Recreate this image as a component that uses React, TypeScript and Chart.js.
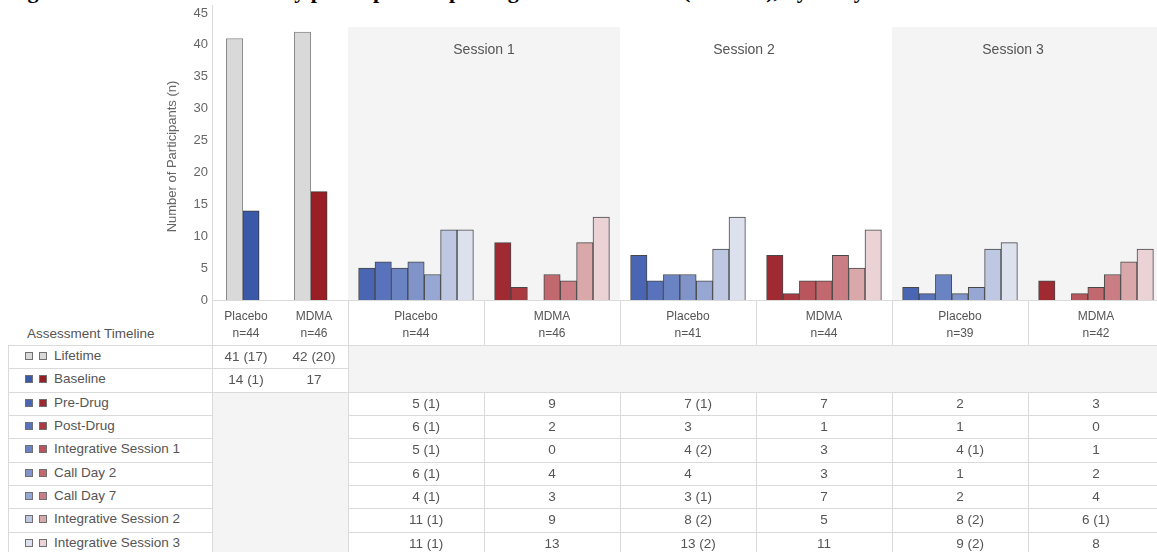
import React, { useEffect, useRef } from "react";
import { Chart, registerables } from "chart.js";

Chart.register(...registerables);

// ---------------- data ----------------
const titleText =
  "Figure 2. Lifetime and on-study participants reporting suicidal ideation (C-SSRS), by study visit";
const yAxisTitle = "Number of Participants (n)";
const yMax = 45;
const yStep = 5;

const arms = ["Placebo", "MDMA"];
const baselineN = [44, 46];
const sessionNames = ["Session 1", "Session 2", "Session 3"];
// per column: S1 Placebo, S1 MDMA, S2 Placebo, S2 MDMA, S3 Placebo, S3 MDMA
const sessionN = [44, 46, 41, 44, 39, 42];

const lifetimeCounts = [41, 42];
const lifetimeSub = [17, 20];
const baselineCounts = [14, 17];
const baselineSub = [1, null];

const timepoints = [
  "Pre-Drug",
  "Post-Drug",
  "Integrative Session 1",
  "Call Day 2",
  "Call Day 7",
  "Integrative Session 2",
  "Integrative Session 3",
];
const preDrug = [5, 9, 7, 7, 2, 3];
const preDrugSub = [1, null, 1, null, null, null];
const postDrug = [6, 2, 3, 1, 1, 0];
const postDrugSub = [1, null, null, null, null, null];
const integrative1 = [5, 0, 4, 3, 4, 1];
const integrative1Sub = [1, null, 2, null, 1, null];
const callDay2 = [6, 4, 4, 3, 1, 2];
const callDay2Sub = [1, null, null, null, null, null];
const callDay7 = [4, 3, 3, 7, 2, 4];
const callDay7Sub = [1, null, 1, null, null, null];
const integrative2 = [11, 9, 8, 5, 8, 6];
const integrative2Sub = [1, null, 2, null, 2, 1];
const integrative3 = [11, 13, 13, 11, 9, 8];
const integrative3Sub = [1, null, 2, null, 2, null];

const sessionCounts = [preDrug, postDrug, integrative1, callDay2, callDay7, integrative2, integrative3];
const sessionSubs = [
  preDrugSub,
  postDrugSub,
  integrative1Sub,
  callDay2Sub,
  callDay7Sub,
  integrative2Sub,
  integrative3Sub,
];

// ---------------- styles ----------------
const FONT = '"Liberation Sans", Arial, Helvetica, sans-serif';
const TEXT = "#555555";
const LINE = "#dadada";
const SHADE = "#f4f4f4";
const lifetimeColor = "#d9d9d9";
// index 0 = Baseline, 1..7 = session timepoints
const placeboShades = ["#3b59a9", "#4a66b3", "#5873bb", "#6a83c2", "#8094ca", "#97a7d3", "#bfc8e3", "#dde1ee"];
const mdmaShades = ["#9a1f24", "#9f2a31", "#aa3940", "#b9565d", "#c1696f", "#ca7e83", "#d9a8ab", "#ebd3d5"];

// ---------------- layout ----------------
const AXIS_X = 212;
const COL_W = 136;
const CANVAS_W = AXIS_X + COL_W * 7;
const CANVAS_H = 312;
const PLOT_TOP = 13;
const PLOT_BOTTOM = 300;
const HEADER_BOTTOM = 345;
const ROW_H = 23.33;
const BAR_W = 16.4;
const TABLE_LEFT = 8;
const BAND_OFFSET = 14;
const BODY_FONT = 13.5;
const HEAD_FONT = 12;
const sessionTitleShift = [0, -12, -15];
const baselineShift = -0.024;

const bw = BAR_W / COL_W;
const baselineCenter = (a: number) => 0.25 + 0.5 * a + baselineShift;
const sessionCenter = (c: number) => 1.5 + c;
const colLeft = (c: number) => AXIS_X + COL_W * (1 + c);

function buildDatasets() {
  const common = { grouped: false, barThickness: BAR_W, borderWidth: 1 };
  const ds: any[] = [];
  ds.push({
    ...common,
    label: "Lifetime",
    data: lifetimeCounts.map((v, a) => ({ x: baselineCenter(a) - bw / 2, y: v })),
    backgroundColor: lifetimeColor,
    borderColor: "#8a8a8a",
  });
  ds.push({
    ...common,
    label: "Baseline",
    data: baselineCounts.map((v, a) => ({ x: baselineCenter(a) + bw / 2, y: v })),
    backgroundColor: [placeboShades[0], mdmaShades[0]],
    borderColor: "#3a3a3a",
  });
  timepoints.forEach((tp, k) => {
    ds.push({
      ...common,
      label: tp,
      data: sessionCounts[k].map((v, c) => ({ x: sessionCenter(c) + (k - 3) * bw, y: v })),
      backgroundColor: sessionCounts[k].map((_, c) => (c % 2 === 0 ? placeboShades[k + 1] : mdmaShades[k + 1])),
      borderColor: "#474747",
    });
  });
  return ds;
}

const sessionBands = {
  id: "sessionBands",
  beforeDatasetsDraw(chart: any) {
    const { ctx, chartArea, scales } = chart;
    const x = scales.x;
    ctx.save();
    sessionNames.forEach((name, s) => {
      const l = x.getPixelForValue(1 + 2 * s);
      const r = x.getPixelForValue(3 + 2 * s);
      if (s % 2 === 0) {
        ctx.fillStyle = SHADE;
        ctx.fillRect(l, chartArea.top + BAND_OFFSET, r - l, chartArea.bottom - chartArea.top - BAND_OFFSET);
      }
      ctx.fillStyle = TEXT;
      ctx.font = `14px ${FONT}`;
      ctx.textAlign = "center";
      ctx.textBaseline = "middle";
      ctx.fillText(name, (l + r) / 2 + sessionTitleShift[s], 50);
    });
    ctx.restore();
  },
};

function fmt(v: number, sub: number | null) {
  return sub == null ? `${v}` : `${v} (${sub})`;
}

const abs = (style: any): any => ({ position: "absolute", ...style });

function HLine({ x1, x2, y }: any) {
  return <div style={abs({ left: x1, top: Math.round(y), width: x2 - x1, height: 1, background: LINE })} />;
}
function VLine({ x, y1, y2 }: any) {
  return <div style={abs({ left: x, top: Math.round(y1), width: 1, height: Math.round(y2) - Math.round(y1), background: LINE })} />;
}

function Swatch({ x, cy, color }: any) {
  return (
    <div
      style={abs({
        left: x,
        top: Math.round(cy - 3.5),
        width: 6,
        height: 6,
        background: color,
        border: "1px solid #707070",
      })}
    />
  );
}

function Cell({ left, width, top, value, sub, hanging }: any) {
  return (
    <div
      style={abs({
        left,
        top,
        width,
        height: ROW_H,
        lineHeight: `${ROW_H}px`,
        textAlign: "center",
        whiteSpace: "nowrap",
        fontSize: BODY_FONT,
      })}
    >
      {hanging && sub != null ? (
        <span style={{ position: "relative", display: "inline-block", lineHeight: `${ROW_H}px`, verticalAlign: "top" }}>
          {value}
          <span style={{ position: "absolute", left: "100%", top: 0, whiteSpace: "pre", lineHeight: `${ROW_H}px` }}>{` (${sub})`}</span>
        </span>
      ) : (
        fmt(value, sub)
      )}
    </div>
  );
}

function Table() {
  const rowTop = (i: number) => HEADER_BOTTOM + i * ROW_H;
  const right = CANVAS_W;
  const els: any[] = [];
  // merged shaded cells
  els.push(<div key="sh1" style={abs({ left: colLeft(0), top: rowTop(0), width: right - colLeft(0), height: rowTop(2) - rowTop(0), background: SHADE })} />);
  els.push(<div key="sh2" style={abs({ left: AXIS_X, top: rowTop(2), width: colLeft(0) - AXIS_X, height: rowTop(10) - rowTop(2), background: SHADE })} />);

  // horizontal lines
  els.push(<HLine key="top" x1={AXIS_X} x2={right} y={PLOT_BOTTOM} />);
  for (let i = 0; i <= 9; i++) {
    const y = rowTop(i);
    els.push(<HLine key={`hl${i}`} x1={TABLE_LEFT} x2={AXIS_X} y={y} />);
    if (i <= 2) els.push(<HLine key={`hb${i}`} x1={AXIS_X} x2={colLeft(0)} y={y} />);
    if (i === 0 || i >= 2) els.push(<HLine key={`hs${i}`} x1={colLeft(0)} x2={right} y={y} />);
  }
  // vertical lines
  els.push(<VLine key="vl0" x={TABLE_LEFT} y1={rowTop(0)} y2={560} />);
  els.push(<VLine key="vl1" x={AXIS_X} y1={5} y2={560} />);
  els.push(<VLine key="vl2" x={colLeft(0)} y1={PLOT_BOTTOM} y2={560} />);
  for (let c = 1; c < 6; c++) {
    els.push(<VLine key={`vh${c}`} x={colLeft(c)} y1={PLOT_BOTTOM} y2={rowTop(0)} />);
    els.push(<VLine key={`vb${c}`} x={colLeft(c)} y1={rowTop(2)} y2={560} />);
  }

  // header
  els.push(
    <div key="at" style={abs({ left: 27, top: 325, lineHeight: "17px", whiteSpace: "nowrap", fontSize: BODY_FONT })}>
      Assessment Timeline
    </div>
  );
  arms.forEach((arm, a) => {
    els.push(
      <div key={`bh${a}`} style={abs({ left: AXIS_X + (COL_W / 2) * a, top: 308, width: COL_W / 2, lineHeight: "17px", textAlign: "center", fontSize: HEAD_FONT })}>
        <div>{arm}</div>
        <div>{`n=${baselineN[a]}`}</div>
      </div>
    );
  });
  sessionN.forEach((n, c) => {
    els.push(
      <div key={`sh${c}`} style={abs({ left: colLeft(c), top: 308, width: COL_W, lineHeight: "17px", textAlign: "center", fontSize: HEAD_FONT })}>
        <div>{arms[c % 2]}</div>
        <div>{`n=${n}`}</div>
      </div>
    );
  });

  // row labels
  const labels = ["Lifetime", "Baseline", ...timepoints];
  const swatches = [
    [lifetimeColor, lifetimeColor],
    [placeboShades[0], mdmaShades[0]],
    ...timepoints.map((_, k) => [placeboShades[k + 1], mdmaShades[k + 1]]),
  ];
  labels.forEach((lab, i) => {
    const cy = rowTop(i) + ROW_H / 2 - 1;
    els.push(<Swatch key={`s1${i}`} x={25} cy={cy} color={swatches[i][0]} />);
    els.push(<Swatch key={`s2${i}`} x={39} cy={cy} color={swatches[i][1]} />);
    els.push(
      <div key={`lb${i}`} style={abs({ left: 54, top: rowTop(i) - 1, height: ROW_H, lineHeight: `${ROW_H}px`, whiteSpace: "nowrap", fontSize: BODY_FONT })}>
        {lab}
      </div>
    );
  });

  // baseline cells
  arms.forEach((_, a) => {
    els.push(<Cell key={`lc${a}`} left={AXIS_X + (COL_W / 2) * a} width={COL_W / 2} top={rowTop(0)} value={lifetimeCounts[a]} sub={lifetimeSub[a]} />);
    els.push(<Cell key={`bc${a}`} left={AXIS_X + (COL_W / 2) * a} width={COL_W / 2} top={rowTop(1)} value={baselineCounts[a]} sub={baselineSub[a]} />);
  });
  // session cells
  sessionCounts.forEach((vals, k) => {
    vals.forEach((v, c) => {
      els.push(
        <Cell key={`c${k}_${c}`} left={colLeft(c)} width={COL_W} top={rowTop(k + 2)} value={v} sub={sessionSubs[k][c]} hanging={c % 2 === 0} />
      );
    });
  });
  return <>{els}</>;
}

export default function App() {
  const ref = useRef<HTMLCanvasElement | null>(null);
  useEffect(() => {
    if (!ref.current) return;
    const chart = new Chart(ref.current, {
      type: "bar",
      data: { datasets: buildDatasets() },
      plugins: [sessionBands],
      options: {
        responsive: false,
        animation: false,
        devicePixelRatio: 1,
        layout: { padding: { left: 161, top: PLOT_TOP, bottom: CANVAS_H - PLOT_BOTTOM, right: 0 } },
        plugins: { legend: { display: false }, tooltip: { enabled: false }, title: { display: false } },
        scales: {
          x: { type: "linear", min: 0, max: 7, display: false, offset: false },
          y: {
            min: 0,
            max: yMax,
            ticks: { stepSize: yStep, color: "#666", font: { size: 13, family: FONT }, padding: 4 },
            grid: { display: false, drawTicks: false },
            border: { display: true, color: LINE },
            title: {
              display: true,
              text: yAxisTitle,
              color: "#666",
              font: { size: 13, family: FONT },
              padding: { top: 4, bottom: 4 },
            },
            afterFit: (s: any) => {
              s.width = AXIS_X - 161;
            },
          },
        },
      } as any,
    });
    return () => chart.destroy();
  }, []);

  return (
    <div
      style={{
        position: "absolute",
        left: 0,
        top: 0,
        width: 1157,
        height: 552,
        overflow: "hidden",
        background: "#fff",
        fontFamily: FONT,
        fontSize: 12,
        color: TEXT,
      }}
    >
      <div
        style={abs({
          left: 8,
          top: -22.5,
          fontFamily: '"Liberation Serif", "Times New Roman", serif',
          fontWeight: "bold",
          fontSize: 22,
          lineHeight: "25px",
          color: "#000",
          whiteSpace: "nowrap",
        })}
      >
        {titleText}
      </div>
      <canvas ref={ref} width={CANVAS_W} height={CANVAS_H} style={abs({ left: 0, top: 0, width: CANVAS_W, height: CANVAS_H })} />
      <Table />
    </div>
  );
}
